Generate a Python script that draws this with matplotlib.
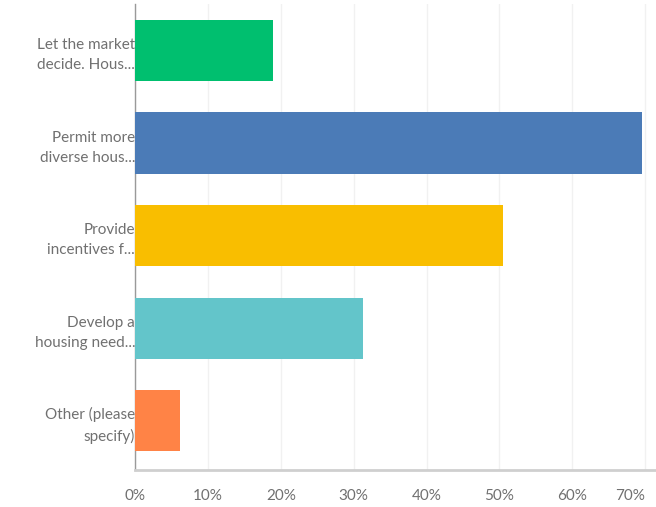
import matplotlib.pyplot as plt

# ---- data ----
labels = [
    "Let the market\ndecide. Hous...",
    "Permit more\ndiverse hous...",
    "Provide\nincentives f...",
    "Develop a\nhousing need...",
    "Other (please\nspecify)",
]
values = [18.9, 69.6, 50.5, 31.3, 6.2]
colors = ["#00bf6f", "#4b7bb7", "#f9be00", "#63c5ca", "#ff8346"]
ticks = [0, 10, 20, 30, 40, 50, 60, 70]
tick_labels = ["0%", "10%", "20%", "30%", "40%", "50%", "60%", "70%"]

plt.rcParams["font.family"] = ["Lato", "DejaVu Sans"]

fig = plt.figure(figsize=(6.56, 5.07), dpi=100)
ax = fig.add_axes([0.206, 0.073, 0.794, 0.919])

ypos = range(len(values))
ax.barh(ypos, values, height=0.66, color=colors, zorder=3)

ax.set_xlim(0, 71.5)
ax.set_ylim(4.53, -0.5)

ax.set_yticks(list(ypos))
ax.set_yticklabels(labels, fontsize=11, color="#707070", linespacing=1.55)
ax.tick_params(axis="y", length=0, pad=0)

ax.set_xticks(ticks)
ax.set_xticklabels(tick_labels, fontsize=11, color="#707070")
ax.tick_params(axis="x", length=0, pad=14)
# last label sits at the right edge, keep it inside the figure
last = ax.get_xticklabels()[-1]
last.set_horizontalalignment("right")

ax.grid(axis="x", color="#f1f1f1", linewidth=1, zorder=0)

for s in ["top", "right"]:
    ax.spines[s].set_visible(False)
ax.spines["left"].set_color("#9a9a9a")
ax.spines["left"].set_linewidth(1)
ax.spines["bottom"].set_color("#cfcfcf")
ax.spines["bottom"].set_linewidth(2)

fig.savefig("out.png", dpi=100)
